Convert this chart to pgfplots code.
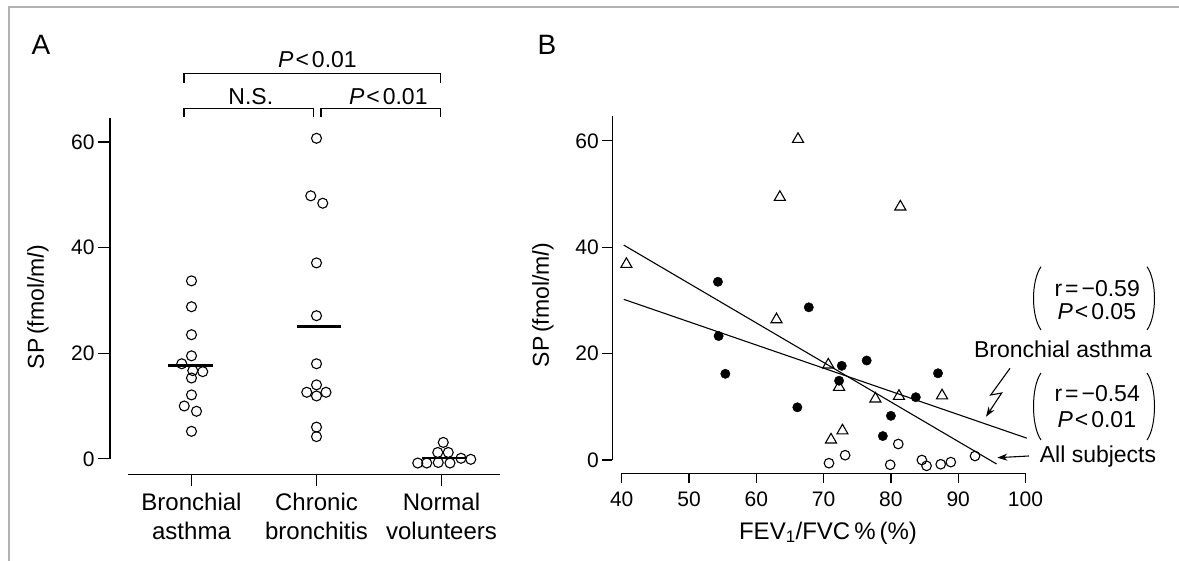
\documentclass[border=0pt]{standalone}
\usepackage{fontspec}
\setmainfont{Liberation Sans}
\usepackage{pgfplots}
\pgfplotsset{compat=1.18}
\usetikzlibrary{arrows.meta}

\begin{document}
\begin{tikzpicture}[x=1pt,y=1pt]
\useasboundingbox (0,0) rectangle (1179,561);
\draw[gray!60, line width=1.2pt] (9,0) -- (9,554) -- (1179,554);

% ---------------- Panel A ----------------
\begin{axis}[
  at={(128pt,102.2pt)}, anchor=south west,
  scale only axis, width=372pt, height=341.1pt,
  xmin=0.492, xmax=3.468, ymin=0, ymax=64.6,
  axis x line*=bottom, axis y line*=left,
  axis x line shift=15.7pt, axis y line shift=18pt,
  axis line style={line width=1.2pt},
  tick align=outside, major tick length=12pt,
  tick style={line width=1.2pt, black},
  xtick={1,2,3}, ytick={0,20,40,60},
  xticklabels={{Bronchial\\asthma},{Chronic\\bronchitis},{Normal\\volunteers}},
  xticklabel style={font=\fontsize{24}{29}\selectfont, align=center, yshift=-3pt},
  yticklabel style={font=\fontsize{21}{21}\selectfont},
  /pgf/number format/assume math mode=true,
  clip=false,
]
% Bronchial asthma
\addplot[only marks, mark=o, mark size=5pt, mark options={line width=1.1pt}] coordinates {
(1.0,33.7) (1.0,28.8) (1.0,23.5) (1.0,19.5) (0.922,18.0) (1.01,16.7) (1.09,16.5)
(1.0,15.3) (1.0,12.1) (0.942,10.0) (1.04,9.0) (1.0,5.2)};
% Chronic bronchitis
\addplot[only marks, mark=o, mark size=5pt, mark options={line width=1.1pt}] coordinates {
(2.0,60.7) (1.954,49.8) (2.05,48.4) (2.0,37.1) (2.0,27.1) (2.0,18.0) (2.0,14.0)
(1.922,12.6) (2.076,12.6) (2.0,11.9) (2.0,6.0) (2.0,4.2)};
% Normal volunteers
\addplot[only marks, mark=o, mark size=5pt, mark options={line width=1.1pt}] coordinates {
(3.014,3.1) (2.97,1.2) (3.054,1.2) (2.81,-0.8) (2.882,-0.8) (2.974,-0.7) (3.068,-0.8)
(3.156,0.1) (3.234,-0.1)};
% medians
\addplot[line width=3pt] coordinates {(0.812,17.7) (1.172,17.7)};
\addplot[line width=3pt] coordinates {(1.842,25.1) (2.194,25.1)};
\addplot[line width=2pt] coordinates {(2.842,0.1) (3.188,0.1)};
\end{axis}

% ---------------- Panel B ----------------
\begin{axis}[
  at={(621.7pt,101pt)}, anchor=south west,
  scale only axis, width=403.8pt, height=344.2pt,
  xmin=40, xmax=100, ymin=0, ymax=64.7,
  axis x line*=bottom, axis y line*=left,
  axis x line shift=13.3pt, axis y line shift=9.4pt,
  axis line style={line width=1.2pt},
  tick align=outside, major tick length=10pt,
  tick style={line width=1.2pt, black},
  xtick={40,50,...,100}, ytick={0,20,40,60},
  tick label style={font=\fontsize{21}{21}\selectfont},
  xticklabel style={yshift=-5pt},
  /pgf/number format/assume math mode=true,
  clip=false,
]
% regression lines
\addplot[line width=1.1pt] coordinates {(40.3,40.4) (95.7,-0.75)};
\addplot[line width=1.1pt] coordinates {(40.3,30.2) (100.2,4.1)};
% bronchial asthma (filled circles)
\addplot[only marks, mark=*, mark size=4.7pt, mark options={fill=black, draw=black}] coordinates {
(54.3,33.5) (54.4,23.3) (55.4,16.2) (66.1,9.9) (67.8,28.7) (72.7,17.7) (72.3,14.9)
(76.4,18.7) (87.0,16.3) (83.7,11.8) (80.0,8.3) (78.8,4.5)};
% chronic bronchitis (triangles)
\addplot[only marks, mark=triangle, mark size=6.4pt, mark options={line width=1.1pt, draw=black}] coordinates {
(40.7,36.8) (63.5,49.4) (66.2,60.3) (63.0,26.4) (81.4,47.6) (70.7,17.9) (72.3,13.7)
(77.7,11.5) (81.2,12.0) (87.6,12.1) (72.8,5.5) (71.1,3.8)};
% normal volunteers (open circles)
\addplot[only marks, mark=o, mark size=4.8pt, mark options={line width=1.1pt}] coordinates {
(81.1,3.0) (73.2,0.9) (70.8,-0.6) (79.9,-0.9) (84.6,0) (85.3,-1.1) (87.4,-0.8)
(88.9,-0.4) (92.5,0.75)};
\end{axis}

% ---------------- annotations ----------------
\node[font=\fontsize{28}{28}\selectfont] at (41,516) {A};
\node[font=\fontsize{28}{28}\selectfont] at (547,516) {B};

\node[rotate=90, font=\fontsize{23}{23}\selectfont] at (38,254) {SP\,(fmol/m\textit{l})};
\node[rotate=90, font=\fontsize{23}{23}\selectfont] at (543,256) {SP\,(fmol/m\textit{l})};
\node[font=\fontsize{24}{24}\selectfont] at (828,28) {FEV\textsubscript{1}/FVC\,\%\,(\%)};

% brackets
\draw[line width=1.2pt] (184,477.7) -- (184,487.7) -- (440.7,487.7) -- (440.7,477.7);
\draw[line width=1.2pt] (184,444.3) -- (184,452.7) -- (313.3,452.7) -- (313.3,444.3);
\draw[line width=1.2pt] (321,444.3) -- (321,452.7) -- (440.7,452.7) -- (440.7,444.3);
\node[font=\fontsize{23}{23}\selectfont] at (317.5,501) {\textit{P}\kern2pt<\kern3pt0.01};
\node[font=\fontsize{23}{23}\selectfont] at (250.8,464.3) {N.S.};
\node[font=\fontsize{23}{23}\selectfont] at (388.3,464.3) {\textit{P}\kern2pt<\kern3pt0.01};

% correlation annotations
\draw[line width=1pt] (1041,294.3) .. controls (1031,280) and (1031,245) .. (1041,231);
\draw[line width=1pt] (1147,294.3) .. controls (1157,280) and (1157,245) .. (1147,231);
\node[anchor=west, font=\fontsize{23}{23}\selectfont] at (1051,272.7) {r\kern3pt=\kern3pt−0.59};
\node[anchor=west, font=\fontsize{23}{23}\selectfont] at (1054,249.3) {\textit{P}\kern2pt<\kern3pt0.05};
\node[font=\fontsize{23}{23}\selectfont] at (1063,211.7) {Bronchial asthma};

\draw[line width=1pt] (1041,188) .. controls (1031,174) and (1031,135) .. (1041,121);
\draw[line width=1pt] (1147,188) .. controls (1157,174) and (1157,135) .. (1147,121);
\node[anchor=west, font=\fontsize{23}{23}\selectfont] at (1051,167.7) {r\kern3pt=\kern3pt−0.54};
\node[anchor=west, font=\fontsize{23}{23}\selectfont] at (1054,141.7) {\textit{P}\kern2pt<\kern3pt0.01};
\node[font=\fontsize{23}{23}\selectfont] at (1098,104.3) {All subjects};

\draw[line width=1.1pt, -{Stealth[length=10pt,width=7pt]}] (1010,192.7) -- (990.7,166) -- (1001.7,168) -- (986,144.3);
\draw[line width=1.1pt, -{Stealth[length=10pt,width=7pt]}] (1029,105) -- (997.3,103.3);
\end{tikzpicture}
\end{document}
